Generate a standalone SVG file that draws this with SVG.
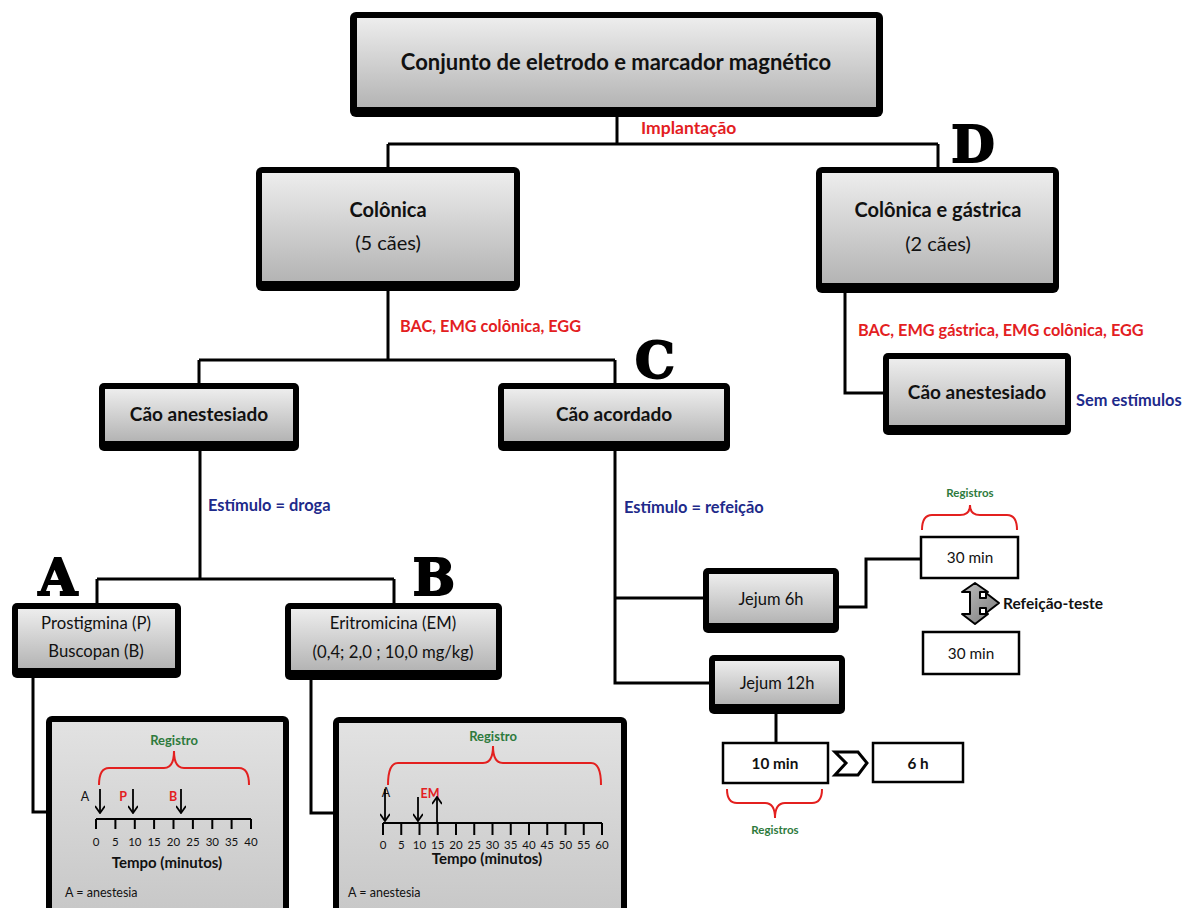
<svg xmlns="http://www.w3.org/2000/svg" width="1200" height="908" viewBox="0 0 1200 908">
<style>
.t{font-family:Lato,"Open Sans","Liberation Sans",sans-serif;fill:#111;text-anchor:middle}
.s{text-anchor:start}
.b{font-weight:bold}
.red{fill:#e3201f;font-weight:bold;text-anchor:start;font-size:16.3px}
.blue{fill:#1e2a8a;font-weight:bold;text-anchor:start;font-size:16.4px}
.grn{fill:#2e7a3c;font-weight:bold;font-size:13px}
.rd{fill:#e3201f;font-weight:bold}
.big{font-family:"DejaVu Serif","Liberation Serif",serif;font-weight:900;font-size:50px;fill:#000;stroke:#000;stroke-width:2;text-anchor:middle}
.ln{fill:none;stroke:#000;stroke-width:3}
.br{fill:none;stroke:#e3201f;stroke-width:2}
.ax{fill:none;stroke:#000;stroke-width:2}
.ar{fill:none;stroke:#000;stroke-width:1.8;marker-end:url(#ah)}
.pl{fill:#fff;stroke:#000;stroke-width:2.5}
.num{font-size:11.5px}
</style>
<defs>
<linearGradient id="g" x1="0" y1="0" x2="0" y2="1"><stop offset="0" stop-color="#ededed"/><stop offset="1" stop-color="#b4b4b4"/></linearGradient>
<linearGradient id="g2" x1="0" y1="0" x2="0" y2="1"><stop offset="0" stop-color="#e2e2e2"/><stop offset="1" stop-color="#c6c6c6"/></linearGradient>
<linearGradient id="ga" x1="0" y1="0" x2="1" y2="1"><stop offset="0" stop-color="#bdbdbd"/><stop offset="1" stop-color="#7a7a7a"/></linearGradient>
<marker id="ah" viewBox="0 0 10 10" refX="9" refY="5" markerWidth="10" markerHeight="10" orient="auto" markerUnits="userSpaceOnUse"><path d="M2,0 L9,5 L2,10" fill="none" stroke="#000" stroke-width="1.8"/></marker>
</defs>

<g id="connectors">
<path class="ln" d="M617,115 V144 M388,144 H938 M388,144 V168 M938,144 V168"/>
<path class="ln" d="M388,290 V360 M199,360 H615 M199,360 V384 M615,360 V384"/>
<path class="ln" d="M200,451 V579 M97,579 H394 M97,579 V604 M394,579 V604"/>
<path class="ln" d="M33,676 V812 H48"/>
<path class="ln" d="M311,678 V813 H334"/>
<path class="ln" d="M615,451 V683 H710 M615,598 H704"/>
<path class="ln" d="M839,607 H866 V559 H921"/>
<path class="ln" d="M776,714 V743"/>
<path class="ln" d="M845,293 V393 H884"/>
</g>

<g id="labels">
<text class="t red" x="641" y="134" style="font-size:17.5px">Implantação</text>
<text class="t red" x="400" y="332">BAC, EMG colônica, EGG</text>
<text class="t red" x="858" y="336">BAC, EMG gástrica, EMG colônica, EGG</text>
<text class="t blue" x="1076" y="406">Sem estímulos</text>
<text class="t blue" x="208" y="511">Estímulo = droga</text>
<text class="t blue" x="624" y="513">Estímulo = refeição</text>
<text class="big" x="58" y="595">A</text>
<text class="big" x="434" y="595">B</text>
<text class="big" x="655" y="378">C</text>
<text class="big" x="973" y="162">D</text>
</g>

<g id="n-top">
<rect x="350" y="12" width="533" height="105" rx="6" fill="#000"/>
<rect x="357" y="18" width="519" height="89" fill="url(#g)"/>
<text class="t b" x="616" y="70" font-size="22">Conjunto de eletrodo e marcador magnético</text>
</g>
<g id="n-colonica">
<rect x="256" y="167" width="264" height="124" rx="6" fill="#000"/>
<rect x="262" y="173" width="252" height="108" fill="url(#g)"/>
<text class="t b" x="388" y="217" font-size="20">Colônica</text>
<text class="t" x="388" y="250" font-size="20">(5 cães)</text>
</g>
<g id="n-colgas">
<rect x="816" y="167" width="243" height="126" rx="6" fill="#000"/>
<rect x="822" y="173" width="231" height="110" fill="url(#g)"/>
<text class="t b" x="938" y="217" font-size="20">Colônica e gástrica</text>
<text class="t" x="938" y="251" font-size="20">(2 cães)</text>
</g>
<g id="n-anest">
<rect x="99" y="383" width="200" height="68" rx="5" fill="#000"/>
<rect x="105" y="389" width="188" height="52" fill="url(#g)"/>
<text class="t b" x="199" y="421" font-size="19">Cão anestesiado</text>
</g>
<g id="n-acord">
<rect x="498" y="383" width="232" height="68" rx="5" fill="#000"/>
<rect x="504" y="389" width="220" height="52" fill="url(#g)"/>
<text class="t b" x="614" y="421" font-size="19">Cão acordado</text>
</g>
<g id="n-anestD">
<rect x="883" y="353" width="188" height="82" rx="5" fill="#000"/>
<rect x="889" y="359" width="176" height="66" fill="url(#g)"/>
<text class="t b" x="977" y="399" font-size="19">Cão anestesiado</text>
</g>
<g id="n-prost">
<rect x="12" y="603" width="169" height="75" rx="5" fill="#000"/>
<rect x="18" y="609" width="157" height="59" fill="url(#g)"/>
<text class="t" x="96" y="629" font-size="16.7">Prostigmina (P)</text>
<text class="t" x="96" y="657" font-size="16.7">Buscopan (B)</text>
</g>
<g id="n-eritro">
<rect x="285" y="603" width="217" height="77" rx="5" fill="#000"/>
<rect x="291" y="609" width="205" height="61" fill="url(#g)"/>
<text class="t" x="393" y="629" font-size="16.7">Eritromicina (EM)</text>
<text class="t" x="393" y="658" font-size="16.7">(0,4; 2,0 ; 10,0 mg/kg)</text>
</g>
<g id="n-jejum6">
<rect x="703" y="568" width="136" height="65" rx="5" fill="#000"/>
<rect x="709" y="574" width="124" height="49" fill="url(#g)"/>
<text class="t" x="771" y="605" font-size="16.5">Jejum 6h</text>
</g>
<g id="n-jejum12">
<rect x="709" y="655" width="136" height="59" rx="5" fill="#000"/>
<rect x="715" y="661" width="124" height="43" fill="url(#g)"/>
<text class="t" x="777" y="689" font-size="16.5">Jejum 12h</text>
</g>

<g id="n-30a">
<rect class="pl" x="921" y="537" width="97" height="41"/>
<text class="t" x="970" y="563" font-size="15.3">30 min</text>
<path class="br" d="M922,530 Q922,515 932,515 L960,515 Q970,515 970,505 Q970,515 980,515 L1007,515 Q1017,515 1017,530"/>
<text class="t grn" x="970" y="497" style="font-size:11.5px">Registros</text>
</g>
<g id="n-refeicao">
<path d="M975,583 L988,592 L980,592 L980,598 L986,598 L986,593 L999,603 L986,613 L986,608 L980,608 L980,614 L988,614 L975,624 L962,614 L970,614 L970,592 L962,592 Z" fill="url(#ga)" stroke="#000" stroke-width="2" stroke-linejoin="round"/>
<text class="t b s" x="1003" y="609" font-size="15.5">Refeição-teste</text>
</g>
<g id="n-30b">
<rect class="pl" x="923" y="632" width="96" height="42"/>
<text class="t" x="971" y="659" font-size="15.3">30 min</text>
</g>
<g id="n-10min">
<rect class="pl" x="723" y="743" width="105" height="40" stroke-width="3"/>
<text class="t b" x="775" y="769" font-size="15.3">10 min</text>
<path class="br" d="M727,789 Q727,803 737,803 L765,803 Q775,803 775,818 Q775,803 785,803 L812,803 Q822,803 822,789"/>
<text class="t grn" x="775" y="834" style="font-size:11.5px">Registros</text>
</g>
<g id="n-chev">
<path d="M835,752 L858,752 L867,763 L858,775 L835,775 L846,763 Z" fill="#fff" stroke="#000" stroke-width="3" stroke-linejoin="miter"/>
</g>
<g id="n-6h">
<rect class="pl" x="873" y="743" width="90" height="39" stroke-width="3"/>
<text class="t b" x="918" y="769" font-size="15.3">6 h</text>
</g>

<g id="n-panelA">
<rect x="46" y="716" width="243" height="200" rx="6" fill="#000"/>
<rect x="52" y="722" width="231" height="200" fill="url(#g2)"/>
<text class="t grn" x="174" y="745">Registro</text>
<path class="br" d="M99,785 Q99,768 109,768 L164,768 Q174,768 174,751 Q174,768 184,768 L239,768 Q249,768 249,785"/>
<text class="t" x="85" y="801" font-size="12.5">A</text>
<line class="ar" x1="100" y1="789" x2="100" y2="813"/>
<text class="t rd" x="123" y="801" font-size="12.5">P</text>
<line class="ar" x1="133" y1="789" x2="133" y2="813"/>
<text class="t rd" x="173" y="801" font-size="12.5">B</text>
<line class="ar" x1="181" y1="789" x2="181" y2="813"/>
<path class="ax" d="M96,819 H251 M96,819 V829 M115.4,819 V829 M134.8,819 V829 M154.1,819 V829 M173.5,819 V829 M192.9,819 V829 M212.3,819 V829 M231.6,819 V829 M251,819 V829"/>
<g class="t num">
<text x="96" y="846">0</text><text x="115.4" y="846">5</text><text x="134.8" y="846">10</text><text x="154.1" y="846">15</text><text x="173.5" y="846">20</text><text x="192.9" y="846">25</text><text x="212.3" y="846">30</text><text x="231.6" y="846">35</text><text x="251" y="846">40</text>
</g>
<text class="t b" x="167" y="868" font-size="15">Tempo (minutos)</text>
<text class="t s" x="65" y="897" font-size="12.5">A = anestesia</text>
</g>

<g id="n-panelB">
<rect x="333" y="717" width="294" height="200" rx="6" fill="#000"/>
<rect x="339" y="723" width="282" height="200" fill="url(#g2)"/>
<text class="t grn" x="493" y="741">Registro</text>
<path class="br" d="M388,785 Q388,763 398,763 L483,763 Q493,763 493,746 Q493,763 503,763 L591,763 Q601,763 601,785"/>
<text class="t" x="386" y="797" font-size="12.5">A</text>
<line class="ar" x1="385" y1="789" x2="385" y2="821"/>
<line class="ar" x1="418" y1="797" x2="418" y2="821"/>
<text class="t rd" x="430" y="798" font-size="12.5">EM</text>
<line class="ar" x1="437" y1="823" x2="437" y2="797"/>
<path class="ax" d="M383,823 H602 M383,823 V835 M401.25,823 V835 M419.5,823 V835 M437.75,823 V835 M456,823 V835 M474.25,823 V835 M492.5,823 V835 M510.75,823 V835 M529,823 V835 M547.25,823 V835 M565.5,823 V835 M583.75,823 V835 M602,823 V835"/>
<g class="t num">
<text x="383" y="849">0</text><text x="401.25" y="849">5</text><text x="419.5" y="849">10</text><text x="437.75" y="849">15</text><text x="456" y="849">20</text><text x="474.25" y="849">25</text><text x="492.5" y="849">30</text><text x="510.75" y="849">35</text><text x="529" y="849">40</text><text x="547.25" y="849">45</text><text x="565.5" y="849">50</text><text x="583.75" y="849">55</text><text x="602" y="849">60</text>
</g>
<text class="t b" x="487" y="864" font-size="15">Tempo (minutos)</text>
<text class="t s" x="348" y="897" font-size="12.5">A = anestesia</text>
</g>
</svg>
